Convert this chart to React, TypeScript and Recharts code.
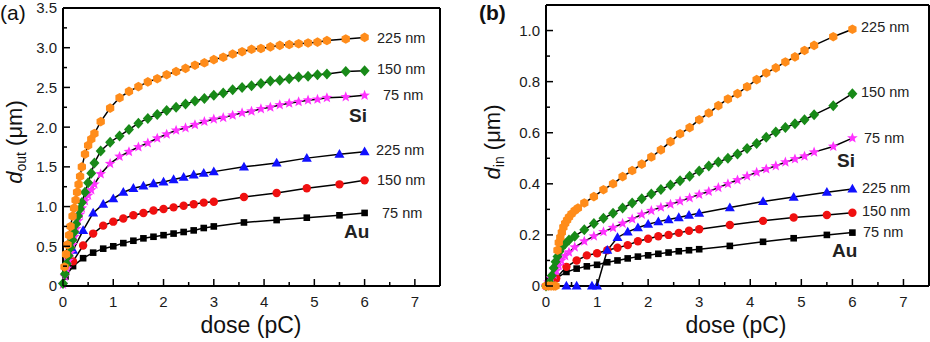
import React from 'react';
import { LineChart, Line, XAxis, YAxis } from 'recharts';

const FONT = '"Liberation Sans", Arial, Helvetica, sans-serif';

// ---------- Panel (a): d_out (µm) vs dose (pC) ----------
const aSi225: number[][] = [
  [0.03, 0.24], [0.06, 0.4], [0.09, 0.52], [0.12, 0.64], [0.15, 0.75], [0.19, 0.88], [0.22, 0.98], [0.25, 1.08],
  [0.28, 1.18], [0.31, 1.28], [0.34, 1.38], [0.375, 1.5], [0.4375, 1.66], [0.5, 1.77], [0.5625, 1.85], [0.625, 1.92],
  [0.75, 2.07], [0.9375, 2.24], [1.125, 2.37], [1.3125, 2.45], [1.5, 2.51], [1.6875, 2.57], [1.875, 2.61], [2.0625, 2.66],
  [2.25, 2.7], [2.4375, 2.74], [2.625, 2.78], [2.8125, 2.81], [3.0, 2.85], [3.1875, 2.88], [3.375, 2.92], [3.5625, 2.95],
  [3.75, 2.98], [3.9375, 2.99], [4.125, 3.01], [4.3125, 3.03], [4.5, 3.04], [4.6875, 3.05], [4.875, 3.06], [5.0625, 3.07],
  [5.25, 3.09], [5.625, 3.11], [6.0, 3.13],
];
const aSi150: number[][] = [
  [0.0, 0.03], [0.0375, 0.15], [0.075, 0.28], [0.1125, 0.38], [0.15, 0.48], [0.1875, 0.58], [0.225, 0.68], [0.2625, 0.78],
  [0.3, 0.88], [0.3375, 0.97], [0.375, 1.05], [0.4375, 1.18], [0.5, 1.3], [0.5625, 1.42], [0.625, 1.55], [0.75, 1.7],
  [0.9375, 1.81], [1.125, 1.89], [1.3125, 1.97], [1.5, 2.05], [1.6875, 2.11], [1.875, 2.16], [2.0625, 2.21], [2.25, 2.25],
  [2.4375, 2.29], [2.625, 2.33], [2.8125, 2.36], [3.0, 2.4], [3.1875, 2.43], [3.375, 2.47], [3.5625, 2.5], [3.75, 2.52],
  [3.9375, 2.55], [4.125, 2.58], [4.3125, 2.59], [4.5, 2.61], [4.6875, 2.63], [4.875, 2.64], [5.0625, 2.66], [5.25, 2.67],
  [5.625, 2.7], [6.0, 2.71],
];
const aSi75: number[][] = [
  [0.0, 0.02], [0.0375, 0.12], [0.075, 0.22], [0.1125, 0.32], [0.15, 0.42], [0.1875, 0.52], [0.225, 0.62], [0.2625, 0.72],
  [0.3, 0.82], [0.3375, 0.9], [0.375, 0.98], [0.4375, 1.07], [0.5, 1.14], [0.5625, 1.21], [0.625, 1.28], [0.75, 1.41],
  [0.9375, 1.54], [1.125, 1.63], [1.3125, 1.69], [1.5, 1.75], [1.6875, 1.8], [1.875, 1.86], [2.0625, 1.91], [2.25, 1.96],
  [2.4375, 1.99], [2.625, 2.03], [2.8125, 2.07], [3.0, 2.1], [3.1875, 2.12], [3.375, 2.15], [3.5625, 2.18], [3.75, 2.2],
  [3.9375, 2.23], [4.125, 2.25], [4.3125, 2.28], [4.5, 2.3], [4.6875, 2.32], [4.875, 2.34], [5.0625, 2.35], [5.25, 2.37],
  [5.625, 2.38], [6.0, 2.4],
];
const aAu225: number[][] = [
  [0.2, 0.45], [0.4, 0.7], [0.6, 0.92], [0.8, 1.03], [1.0, 1.1], [1.2, 1.18], [1.4, 1.23], [1.6, 1.26], [1.8, 1.29],
  [2.0, 1.31], [2.2, 1.34], [2.4, 1.37], [2.6, 1.4], [2.8, 1.42], [3.0, 1.44], [3.6, 1.5], [4.25, 1.55], [4.85, 1.61],
  [5.5, 1.66], [6.0, 1.69],
];
const aAu150: number[][] = [
  [0.2, 0.31], [0.4, 0.51], [0.6, 0.66], [0.8, 0.76], [1.0, 0.81], [1.2, 0.85], [1.4, 0.89], [1.6, 0.92], [1.8, 0.95],
  [2.0, 0.97], [2.2, 0.99], [2.4, 1.01], [2.6, 1.03], [2.8, 1.05], [3.0, 1.06], [3.6, 1.12], [4.25, 1.17], [4.85, 1.23],
  [5.5, 1.28], [6.0, 1.33],
];
const aAu75: number[][] = [
  [0.05, 0.12], [0.2, 0.25], [0.4, 0.35], [0.6, 0.42], [0.8, 0.47], [1.0, 0.5], [1.2, 0.54], [1.4, 0.57], [1.6, 0.6],
  [1.8, 0.62], [2.0, 0.64], [2.2, 0.66], [2.4, 0.68], [2.6, 0.7], [2.8, 0.73], [3.0, 0.75], [3.6, 0.8], [4.25, 0.83],
  [4.85, 0.86], [5.5, 0.89], [6.0, 0.92],
];

// ---------- Panel (b): d_in (µm) vs dose (pC) ----------
const bSi225: number[][] = [
  [0.0, 0], [0.05, 0], [0.1, 0], [0.15, 0], [0.1875, 0], [0.225, 0.14], [0.25, 0.17], [0.28, 0.19], [0.31, 0.21],
  [0.34, 0.23], [0.375, 0.245], [0.4125, 0.258], [0.45, 0.27], [0.5, 0.282], [0.5625, 0.295], [0.625, 0.305],
  [0.75, 0.325], [0.9375, 0.35], [1.125, 0.377], [1.3125, 0.4], [1.5, 0.428], [1.6875, 0.452], [1.875, 0.477],
  [2.0625, 0.505], [2.25, 0.533], [2.4375, 0.565], [2.625, 0.596], [2.8125, 0.62], [3.0, 0.651], [3.1875, 0.677],
  [3.375, 0.706], [3.5625, 0.732], [3.75, 0.753], [3.9375, 0.78], [4.125, 0.808], [4.3125, 0.834], [4.5, 0.854],
  [4.6875, 0.877], [4.875, 0.897], [5.0625, 0.922], [5.25, 0.942], [5.625, 0.976], [6.0, 1.005],
];
const bSi150: number[][] = [
  [0.0, 0], [0.0375, 0.005], [0.075, 0.015], [0.1125, 0.04], [0.15, 0.07], [0.1875, 0.095], [0.225, 0.115],
  [0.2625, 0.135], [0.3, 0.15], [0.375, 0.165], [0.45, 0.18], [0.5625, 0.195], [0.75, 0.22], [0.9375, 0.245],
  [1.125, 0.265], [1.3125, 0.285], [1.5, 0.305], [1.6875, 0.325], [1.875, 0.342], [2.0625, 0.36], [2.25, 0.378],
  [2.4375, 0.395], [2.625, 0.412], [2.8125, 0.43], [3.0, 0.45], [3.1875, 0.47], [3.375, 0.485], [3.5625, 0.5],
  [3.75, 0.517], [3.9375, 0.538], [4.125, 0.558], [4.3125, 0.582], [4.5, 0.603], [4.6875, 0.62], [4.875, 0.635],
  [5.0625, 0.651], [5.25, 0.67], [5.625, 0.706], [6.0, 0.753],
];
const bSi75: number[][] = [
  [0.0, 0], [0.05, 0.015], [0.1, 0.03], [0.15, 0.045], [0.2, 0.06], [0.25, 0.08], [0.3, 0.1], [0.375, 0.118],
  [0.45, 0.132], [0.5625, 0.152], [0.75, 0.175], [0.9375, 0.195], [1.125, 0.212], [1.3125, 0.228], [1.5, 0.245],
  [1.6875, 0.262], [1.875, 0.28], [2.0625, 0.295], [2.25, 0.308], [2.4375, 0.32], [2.625, 0.332], [2.8125, 0.345],
  [3.0, 0.358], [3.1875, 0.37], [3.375, 0.385], [3.5625, 0.4], [3.75, 0.415], [3.9375, 0.43], [4.125, 0.445],
  [4.3125, 0.458], [4.5, 0.47], [4.6875, 0.485], [4.875, 0.497], [5.0625, 0.508], [5.25, 0.524], [5.625, 0.546],
  [6.0, 0.579],
];
const bAu225: number[][] = [
  [0.4, 0], [0.6, 0], [0.9, 0], [1.0, 0], [1.2, 0.14], [1.4, 0.19], [1.6, 0.212], [1.8, 0.228], [2.0, 0.242],
  [2.2, 0.252], [2.4, 0.26], [2.6, 0.268], [2.8, 0.277], [3.0, 0.285], [3.6, 0.307], [4.25, 0.331], [4.85, 0.348],
  [5.5, 0.367], [6.0, 0.38],
];
const bAu150: number[][] = [
  [0.2, 0.03], [0.4, 0.075], [0.6, 0.1], [0.8, 0.12], [1.0, 0.128], [1.2, 0.14], [1.4, 0.15], [1.6, 0.16], [1.8, 0.175],
  [2.0, 0.185], [2.2, 0.195], [2.4, 0.2], [2.6, 0.208], [2.8, 0.216], [3.0, 0.222], [3.6, 0.239], [4.25, 0.255],
  [4.85, 0.268], [5.5, 0.278], [6.0, 0.287],
];
const bAu75: number[][] = [
  [0.05, 0.02], [0.2, 0.03], [0.4, 0.055], [0.6, 0.068], [0.8, 0.077], [1.0, 0.083], [1.2, 0.093], [1.4, 0.1],
  [1.6, 0.108], [1.8, 0.115], [2.0, 0.12], [2.2, 0.126], [2.4, 0.131], [2.6, 0.136], [2.8, 0.14], [3.0, 0.144],
  [3.6, 0.157], [4.25, 0.173], [4.85, 0.187], [5.5, 0.2], [6.0, 0.209],
];

// ---------- Axis ticks ----------
const xTicks = [0, 0.5, 1, 1.5, 2, 2.5, 3, 3.5, 4, 4.5, 5, 5.5, 6, 6.5, 7];
const aYTicks = [0, 0.25, 0.5, 0.75, 1, 1.25, 1.5, 1.75, 2, 2.25, 2.5, 2.75, 3, 3.25, 3.5];
const bYTicks = [0, 0.1, 0.2, 0.3, 0.4, 0.5, 0.6, 0.7, 0.8, 0.9, 1.0];

const COLORS = {
  orange: '#FF8C1A',
  green: '#188A18',
  magenta: '#FF33FF',
  blue: '#1010FF',
  red: '#F01010',
  black: '#000000',
};

const toPts = (arr: number[][]) => arr.map(([x, y]) => ({ x, y }));

const isMajor = (v: number, step: number) => Math.abs(v / step - Math.round(v / step)) < 1e-6;
const fmt = (v: number) => (v === 0 ? '0' : v.toFixed(1));
const MAJ = 7;
const MIN = 4;
const TICK_COLOR = '#1a1a1a';

const bottomTick = (props: any) => {
  const { x, y, payload } = props;
  const v = payload.value;
  const major = isMajor(v, 1);
  return (
    <g>
      <line x1={x} x2={x} y1={y} y2={y - (major ? MAJ : MIN)} stroke="#000" strokeWidth={1.5} />
      {major && (
        <text x={x} y={y + 21} textAnchor="middle" fontSize={15} fontFamily={FONT} fill={TICK_COLOR}>
          {String(v)}
        </text>
      )}
    </g>
  );
};
const topTick = (props: any) => {
  const { x, y, payload } = props;
  const major = isMajor(payload.value, 1);
  return <line x1={x} x2={x} y1={y} y2={y + (major ? MAJ : MIN)} stroke="#000" strokeWidth={1.5} />;
};
const leftTick = (step: number) => (props: any) => {
  const { x, y, payload } = props;
  const v = payload.value;
  const major = isMajor(v, step);
  return (
    <g>
      <line x1={x} x2={x + (major ? MAJ : MIN)} y1={y} y2={y} stroke="#000" strokeWidth={1.5} />
      {major && (
        <text x={x - 6} y={y} dy="0.36em" textAnchor="end" fontSize={15} fontFamily={FONT} fill={TICK_COLOR}>
          {fmt(v)}
        </text>
      )}
    </g>
  );
};
const rightTick = (step: number) => (props: any) => {
  const { x, y, payload } = props;
  const major = isMajor(payload.value, step);
  return <line x1={x} x2={x - (major ? MAJ : MIN)} y1={y} y2={y} stroke="#000" strokeWidth={1.5} />;
};

// ---------- Marker shapes ----------
const hexagon = (color: string) => (p: any) => {
  const { cx, cy, index } = p;
  if (cx == null || cy == null) return <g key={`h${index}`} />;
  const r = 4.8;
  const pts = [0, 1, 2, 3, 4, 5]
    .map((k) => {
      const a = (Math.PI / 3) * k + Math.PI / 6;
      return `${cx + r * Math.cos(a)},${cy + r * Math.sin(a)}`;
    })
    .join(' ');
  return <polygon key={`h${index}`} points={pts} fill={color} />;
};
const circle = (color: string) => (p: any) => {
  const { cx, cy, index } = p;
  if (cx == null || cy == null) return <g key={`c${index}`} />;
  return <circle key={`c${index}`} cx={cx} cy={cy} r={4.2} fill={color} />;
};
const square = (color: string) => (p: any) => {
  const { cx, cy, index } = p;
  if (cx == null || cy == null) return <g key={`s${index}`} />;
  return <rect key={`s${index}`} x={cx - 3.3} y={cy - 3.3} width={6.6} height={6.6} fill={color} />;
};
const triangle = (color: string) => (p: any) => {
  const { cx, cy, index } = p;
  if (cx == null || cy == null) return <g key={`t${index}`} />;
  return <polygon key={`t${index}`} points={`${cx},${cy - 5.2} ${cx - 5},${cy + 3.6} ${cx + 5},${cy + 3.6}`} fill={color} />;
};
const diamond = (color: string) => (p: any) => {
  const { cx, cy, index } = p;
  if (cx == null || cy == null) return <g key={`d${index}`} />;
  return <polygon key={`d${index}`} points={`${cx},${cy - 5.5} ${cx + 5},${cy} ${cx},${cy + 5.5} ${cx - 5},${cy}`} fill={color} />;
};
const star = (color: string) => (p: any) => {
  const { cx, cy, index } = p;
  if (cx == null || cy == null) return <g key={`st${index}`} />;
  const pts: string[] = [];
  for (let k = 0; k < 10; k++) {
    const r = k % 2 === 0 ? 5.6 : 2.4;
    const a = -Math.PI / 2 + (Math.PI / 5) * k;
    pts.push(`${cx + r * Math.cos(a)},${cy + r * Math.sin(a)}`);
  }
  return <polygon key={`st${index}`} points={pts.join(' ')} fill={color} />;
};

type SeriesDef = { name: string; data: number[][]; dot: (p: any) => React.ReactElement };

const aSeries: SeriesDef[] = [
  { name: 'Au 75 nm', data: aAu75, dot: square(COLORS.black) },
  { name: 'Au 150 nm', data: aAu150, dot: circle(COLORS.red) },
  { name: 'Au 225 nm', data: aAu225, dot: triangle(COLORS.blue) },
  { name: 'Si 75 nm', data: aSi75, dot: star(COLORS.magenta) },
  { name: 'Si 150 nm', data: aSi150, dot: diamond(COLORS.green) },
  { name: 'Si 225 nm', data: aSi225, dot: hexagon(COLORS.orange) },
];
const bSeries: SeriesDef[] = [
  { name: 'Au 75 nm', data: bAu75, dot: square(COLORS.black) },
  { name: 'Au 150 nm', data: bAu150, dot: circle(COLORS.red) },
  { name: 'Au 225 nm', data: bAu225, dot: triangle(COLORS.blue) },
  { name: 'Si 75 nm', data: bSi75, dot: star(COLORS.magenta) },
  { name: 'Si 150 nm', data: bSi150, dot: diamond(COLORS.green) },
  { name: 'Si 225 nm', data: bSi225, dot: hexagon(COLORS.orange) },
];

type PanelProps = {
  series: SeriesDef[];
  width: number;
  height: number;
  leftW: number;
  rightW: number;
  topH: number;
  bottomH: number;
  yMax: number;
  yTicks: number[];
  yStep: number;
};

function Panel(p: PanelProps) {
  return (
    <LineChart width={p.width} height={p.height} margin={{ top: 0, right: 0, bottom: 0, left: 0 }}>
      <XAxis
        xAxisId="b"
        dataKey="x"
        type="number"
        domain={[0, 7.5]}
        ticks={xTicks}
        interval={0}
        height={p.bottomH}
        tickSize={0}
        tickMargin={0}
        tickLine={false}
        axisLine={{ stroke: '#000', strokeWidth: 2 }}
        tick={bottomTick}
      />
      <XAxis
        xAxisId="t"
        dataKey="x"
        type="number"
        orientation="top"
        domain={[0, 7.5]}
        ticks={xTicks}
        interval={0}
        height={p.topH}
        tickSize={0}
        tickMargin={0}
        tickLine={false}
        axisLine={{ stroke: '#000', strokeWidth: 2 }}
        tick={topTick}
      />
      <YAxis
        yAxisId="l"
        type="number"
        domain={[0, p.yMax]}
        ticks={p.yTicks}
        interval={0}
        width={p.leftW}
        tickSize={0}
        tickMargin={0}
        tickLine={false}
        axisLine={{ stroke: '#000', strokeWidth: 2 }}
        tick={leftTick(p.yStep)}
      />
      <YAxis
        yAxisId="r"
        type="number"
        orientation="right"
        domain={[0, p.yMax]}
        ticks={p.yTicks}
        interval={0}
        width={p.rightW}
        tickSize={0}
        tickMargin={0}
        tickLine={false}
        axisLine={{ stroke: '#000', strokeWidth: 2 }}
        tick={rightTick(p.yStep)}
      />
      {p.series.map((s) => (
        <Line
          key={s.name}
          name={s.name}
          xAxisId="b"
          yAxisId="l"
          data={toPts(s.data)}
          dataKey="y"
          type="linear"
          stroke="#000"
          strokeWidth={1.5}
          dot={s.dot}
          activeDot={false}
          isAnimationActive={false}
        />
      ))}
    </LineChart>
  );
}

type Note = { text: string; x: number; y: number; bold?: boolean; size?: number };
const notes: Note[] = [
  { text: '225 nm', x: 377, y: 43 },
  { text: '150 nm', x: 377, y: 74 },
  { text: '75 nm', x: 383, y: 100 },
  { text: 'Si', x: 349, y: 122, bold: true, size: 19 },
  { text: '225 nm', x: 376, y: 155 },
  { text: '150 nm', x: 377, y: 185 },
  { text: '75 nm', x: 382, y: 218 },
  { text: 'Au', x: 344, y: 238, bold: true, size: 19 },
  { text: '225 nm', x: 861, y: 32 },
  { text: '150 nm', x: 861, y: 97 },
  { text: '75 nm', x: 864, y: 143 },
  { text: 'Si', x: 837, y: 167, bold: true, size: 19 },
  { text: '225 nm', x: 862, y: 193 },
  { text: '150 nm', x: 862, y: 216 },
  { text: '75 nm', x: 863, y: 237 },
  { text: 'Au', x: 832, y: 257, bold: true, size: 19 },
];

export default function App() {
  return (
    <div style={{ position: 'absolute', left: 0, top: 0, width: 930, height: 342, background: '#fff', overflow: 'hidden' }}>
      <div style={{ position: 'absolute', left: 0, top: 0 }}>
        <Panel
          series={aSeries}
          width={470}
          height={342}
          leftW={63}
          rightW={30}
          topH={8}
          bottomH={56}
          yMax={3.5}
          yTicks={aYTicks}
          yStep={0.5}
        />
      </div>
      <div style={{ position: 'absolute', left: 470, top: 0 }}>
        <Panel
          series={bSeries}
          width={460}
          height={342}
          leftW={76}
          rightW={1}
          topH={5}
          bottomH={56}
          yMax={1.1}
          yTicks={bYTicks}
          yStep={0.2}
        />
      </div>
      <svg
        width={930}
        height={342}
        style={{ position: 'absolute', left: 0, top: 0, pointerEvents: 'none' }}
        fontFamily={FONT}
      >
        <text x={0} y={20} fontSize={21} fill="#111">(a)</text>
        <text x={479} y={20} fontSize={21} fontWeight="bold" fill="#111">(b)</text>
        <text x={251} y={333} fontSize={23} textAnchor="middle" fill="#111">dose (pC)</text>
        <text x={736} y={333} fontSize={23} textAnchor="middle" fill="#111">dose (pC)</text>
        <text transform="translate(22,142) rotate(-90)" fontSize={22} textAnchor="middle" fill="#111">
          <tspan fontStyle="italic">d</tspan>
          <tspan fontSize={14} dy={4}>out</tspan>
          <tspan dy={-4}> (μm)</tspan>
        </text>
        <text transform="translate(500,142) rotate(-90)" fontSize={22} textAnchor="middle" fill="#111">
          <tspan fontStyle="italic">d</tspan>
          <tspan fontSize={14} dy={4}>in</tspan>
          <tspan dy={-4}> (μm)</tspan>
        </text>
        {notes.map((n, i) => (
          <text
            key={i}
            x={n.x}
            y={n.y}
            fontSize={n.size ?? 14.5}
            fontWeight={n.bold ? 'bold' : 'normal'}
            fill="#222"
          >
            {n.text}
          </text>
        ))}
      </svg>
    </div>
  );
}
